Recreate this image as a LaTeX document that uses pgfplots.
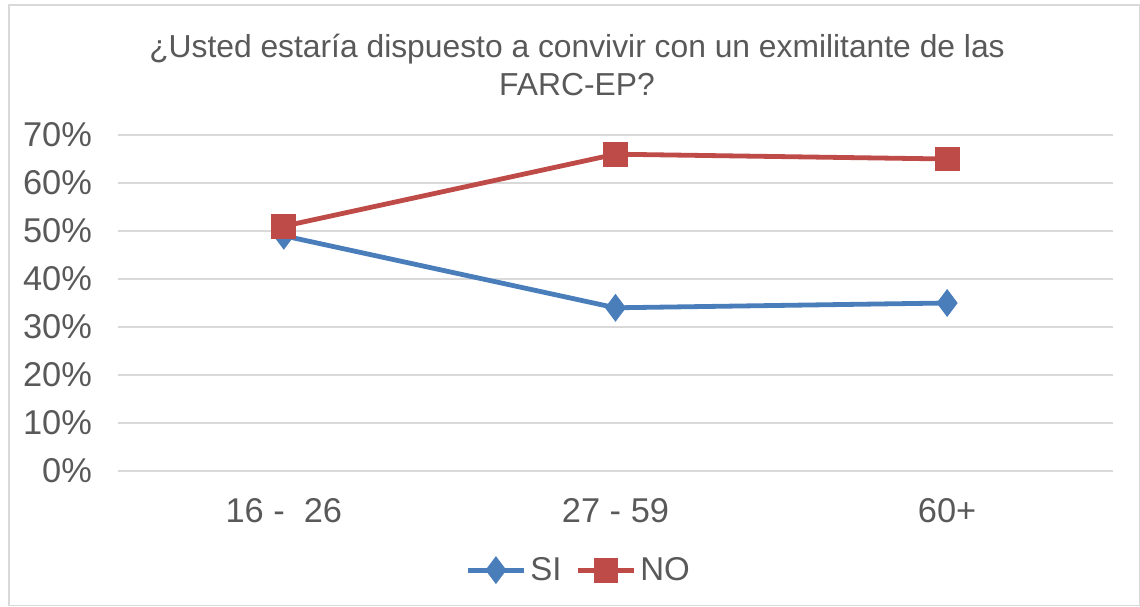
\documentclass[border=0pt]{standalone}
\usepackage{pgfplots}
\pgfplotsset{compat=1.18}
\usepackage{fontspec}
\setmainfont{Liberation Sans}
\definecolor{siblue}{HTML}{4A7EBB}
\definecolor{nored}{HTML}{BE4B48}
\definecolor{gridgray}{HTML}{D9D9D9}
\definecolor{txtgray}{HTML}{595959}

\begin{document}
\begin{tikzpicture}
% chart frame (1px = 0.5pt)
\path[use as bounding box] (0pt,0pt) rectangle (570pt,303pt);
\draw[gridgray,line width=0.6pt] (4.5pt,0.3pt) rectangle (569.7pt,300.5pt);
\node[txtgray,font=\fontsize{15.9}{19}\selectfont,align=center] at (288.5pt,270.5pt)
  {¿Usted estaría dispuesto a convivir con un exmilitante de las\\FARC-EP?};
\begin{axis}[at={(59pt,235.5pt)},anchor=north west,
  scale only axis,width=497.5pt,height=168pt,
  xmin=-0.5,xmax=2.5,ymin=0,ymax=70,
  xtick={0,1,2},xticklabels={16 -\ \ 26,27 - 59,60+},
  ytick={0,10,...,70},yticklabel={\pgfmathprintnumber{\tick}\%},
  ymajorgrids,grid style={gridgray,line width=0.75pt},
  axis line style={draw=none},
  axis x line*=bottom,
  x axis line style={gridgray,line width=0.75pt},
  major tick length=0pt,
  tick label style={txtgray,font=\fontsize{17.2}{19}\selectfont},
  /pgf/number format/assume math mode=true,
  yticklabel style={xshift=-9.5pt},
  xticklabel style={yshift=-10pt},
  legend style={at={(0.464,-0.295)},anchor=center,draw=none,fill=none,
    legend columns=2,font=\fontsize{16.5}{18}\selectfont,text=txtgray,
    inner sep=1pt,
    /tikz/every even column/.append style={column sep=5pt}},
  legend image code/.code={\draw[mark repeat=2,mark phase=2,#1]
    plot coordinates {(0pt,0pt) (14pt,0pt) (28pt,0pt)};},
]
\addplot[siblue,line width=2.4pt,mark=diamond*,mark size=5pt,mark options={solid}]
  coordinates {(0,49) (1,34) (2,35)};
\addlegendentry{SI}
\addplot[nored,line width=2.4pt,mark=square*,mark size=5pt]
  coordinates {(0,51) (1,66) (2,65)};
\addlegendentry{NO}
\end{axis}
\end{tikzpicture}
\end{document}
